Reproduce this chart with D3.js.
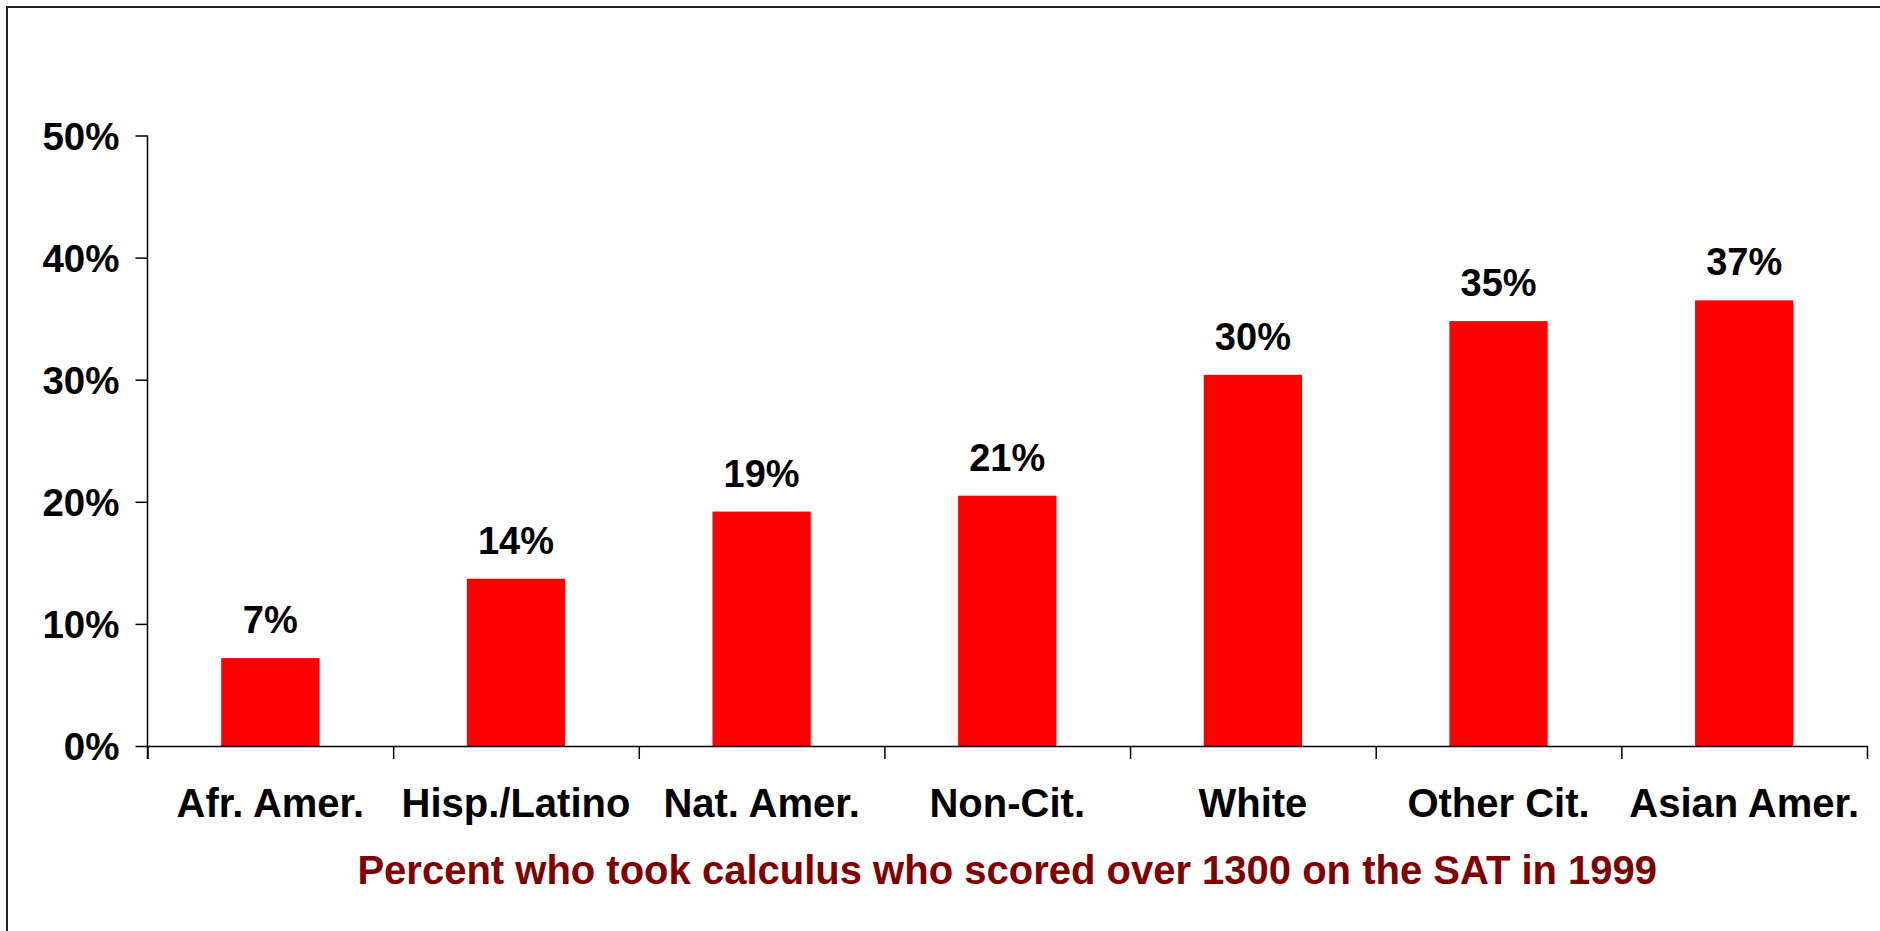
<!DOCTYPE html>
<html>
<head>
<meta charset="utf-8">
<script src="https://cdn.jsdelivr.net/npm/d3@7"></script>
<style>
    body { margin: 0; background: #fff; }
    svg { display: block; font-family: Arial, "Liberation Sans", sans-serif; font-weight: bold; }
</style>
</head>
<body>
<svg id="chart" width="1880" height="931"></svg>
<script>
// data
var categories = ['Afr. Amer.', 'Hisp./Latino', 'Nat. Amer.', 'Non-Cit.', 'White', 'Other Cit.', 'Asian Amer.'];
var values = [7.2, 13.7, 19.2, 20.5, 30.4, 34.8, 36.5];
var valueLabels = ['7%', '14%', '19%', '21%', '30%', '35%', '37%'];
var yTicks = [0, 10, 20, 30, 40, 50];
var title = 'Percent who took calculus who scored over 1300 on the SAT in 1999';

var svg = d3.select('#chart');
var margin = {left: 147.5, right: 13, top: 135.5, bottom: 185};
var width = 1880, height = 931;

// frame: only top and left edges are visible
svg.append('path')
    .attr('d', 'M7,931 L7,7 L1880,7')
    .attr('fill', 'none')
    .attr('stroke', '#222')
    .attr('stroke-width', 2);

var x = d3.scaleBand()
    .domain(categories)
    .range([margin.left, width - margin.right])
    .paddingInner(0.6)
    .paddingOuter(0.3);

var y = d3.scaleLinear()
    .domain([0, 50])
    .range([height - margin.bottom, margin.top]);

var g = svg.append('g');

g.selectAll('.bar').data(values).enter()
    .append('rect')
    .attr('class', 'bar')
    .attr('x', function(d, i) { return x(categories[i]); })
    .attr('y', function(d) { return y(d); })
    .attr('width', x.bandwidth())
    .attr('height', function(d) { return y(0) - y(d); })
    .attr('fill', '#ff0000');

g.selectAll('.value-label').data(values).enter()
    .append('text')
    .attr('class', 'value-label')
    .attr('text-anchor', 'middle')
    .attr('font-size', '38px')
    .attr('x', function(d, i) { return x(categories[i]) + x.bandwidth() / 2; })
    .attr('y', function(d) { return y(d) - 25; })
    .text(function(d, i) { return valueLabels[i]; });

// y axis
var yAxis = d3.axisLeft(y)
    .tickValues(yTicks)
    .tickSize(12)
    .tickPadding(16)
    .tickFormat(function(d) { return d + '%'; });

var yg = svg.append('g')
    .attr('transform', 'translate(' + margin.left + ',0)')
    .call(yAxis);
yg.select('.domain').attr('d', 'M0,' + (y(50)) + 'V' + (y(0) + 13)).attr('stroke', '#000').attr('stroke-width', 1.5);
yg.selectAll('.tick line').attr('stroke', '#000').attr('stroke-width', 1.5);
yg.selectAll('.tick text')
    .attr('font-size', '38.5px')
    .attr('font-family', 'Arial, "Liberation Sans", sans-serif')
    .attr('font-weight', 'bold')
    .attr('fill', '#000')
    .attr('dy', '0.36em');

// x axis: category boundaries as ticks
var bounds = d3.range(categories.length + 1);
var xb = d3.scaleLinear().domain([0, categories.length]).range([margin.left, width - margin.right]);
var xAxis = d3.axisBottom(xb)
    .tickValues(bounds)
    .tickSize(13)
    .tickFormat('')
    .tickSizeOuter(0);
var xg = svg.append('g')
    .attr('transform', 'translate(0,' + y(0) + ')')
    .call(xAxis);
xg.select('.domain').attr('stroke', '#000').attr('stroke-width', 1.5);
xg.selectAll('.tick line').attr('stroke', '#000').attr('stroke-width', 1.5);

svg.selectAll('.cat-label').data(categories).enter()
    .append('text')
    .attr('class', 'cat-label')
    .attr('text-anchor', 'middle')
    .attr('font-size', '40px')
    .attr('x', function(d) { return x(d) + x.bandwidth() / 2; })
    .attr('y', 817)
    .text(function(d) { return d; });

svg.append('text')
    .attr('text-anchor', 'middle')
    .attr('font-size', '40px')
    .attr('fill', '#800000')
    .attr('x', (margin.left + width - margin.right) / 2)
    .attr('y', 884)
    .text(title);
</script>
</body>
</html>
